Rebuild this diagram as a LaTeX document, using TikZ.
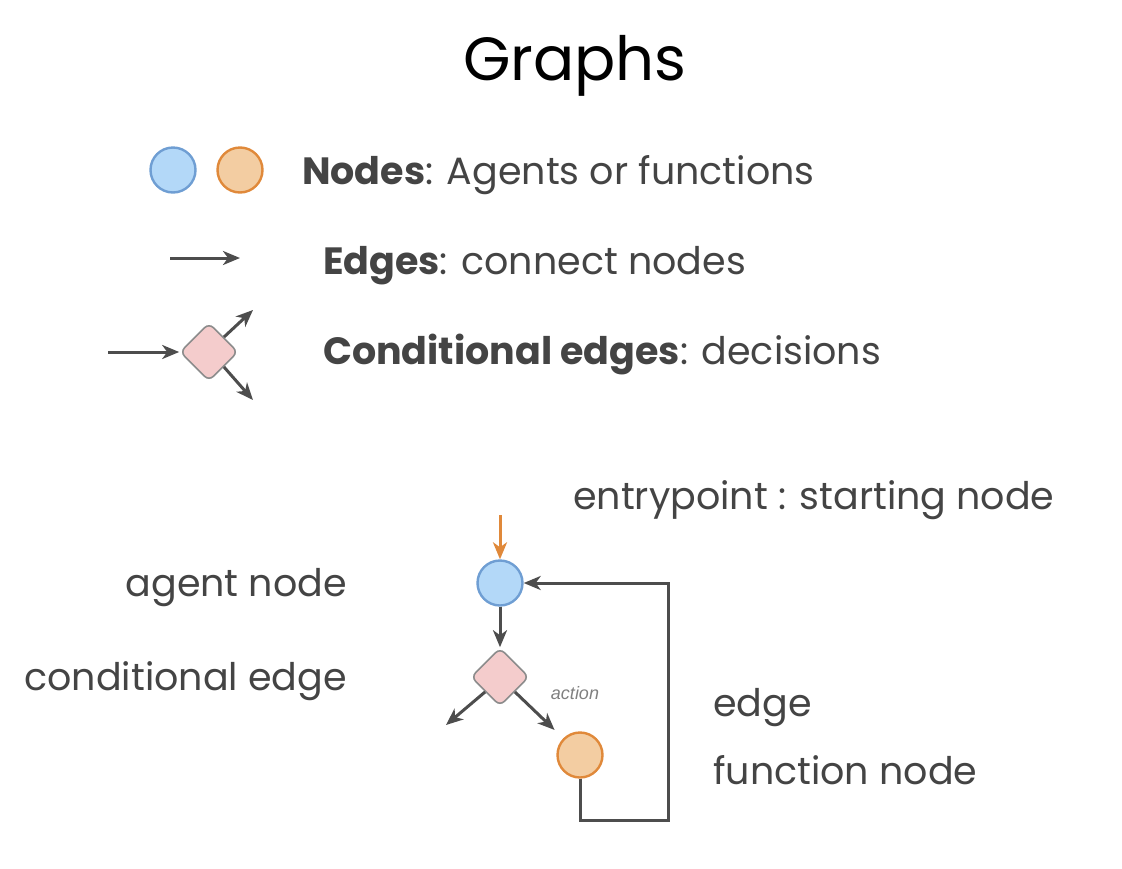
\documentclass[tikz,border=0pt]{standalone}
\usepackage{fontspec}
\setmainfont{Poppins}
\newfontfamily\actionfont{Liberation Sans}
\usetikzlibrary{arrows.meta,shapes.geometric,positioning}

\definecolor{texte}{HTML}{444444}
\definecolor{gris}{HTML}{4D4D4D}
\definecolor{bleu}{HTML}{B3D8F8}
\definecolor{bleubord}{HTML}{6F9ED3}
\definecolor{orangec}{HTML}{F3CDA2}
\definecolor{orangebord}{HTML}{E0893A}
\definecolor{rose}{HTML}{F4CCCC}
\definecolor{rosebord}{HTML}{8C8C8C}

\begin{document}
\begin{tikzpicture}[x=1pt,y=-1pt,
  fleche/.style={draw=gris, line width=3pt, -{Stealth[length=17pt,width=14pt,inset=5pt]}},
  agent/.style={circle, draw=bleubord, fill=bleu, line width=2.4pt, minimum size=45pt, inner sep=0pt},
  fonction/.style={agent, draw=orangebord, fill=orangec},
  decision/.style={diamond, draw=rosebord, fill=rose, line width=1.6pt, minimum size=58pt, inner sep=0pt, rounded corners=6pt},
  legende/.style={text=texte, font=\fontsize{38}{44}\selectfont, inner sep=0pt},
]
  \useasboundingbox (0,0) rectangle (1122,868);

  % Titre
  \node[text=black, font=\fontsize{61}{70}\selectfont, inner sep=0pt, anchor=base] (titre) at (575,80) {Graphs};

  % Legende : noeuds
  \node[agent] (lbleu) at (173,170) {};
  \node[fonction] (lorange) at (240,170) {};
  \node[legende, anchor=base west] (lnoeuds) at (302,184) {\textbf{Nodes}: Agents or functions};

  % Legende : aretes
  \coordinate (la1) at (170,258);
  \coordinate (la2) at (240,258);
  \draw[fleche] (la1) -- (la2);
  \node[legende, anchor=base west] (laretes) at (323,274) {\textbf{Edges}: connect nodes};

  % Legende : aretes conditionnelles
  \node[decision] (ldec) at (209,352) {};
  \coordinate (lc0) at (108,352);
  \coordinate (lc1) at (253,310);
  \coordinate (lc2) at (253,400);
  \draw[fleche] (lc0) -- (ldec.west);
  \draw[fleche] (ldec.north east) -- (lc1);
  \draw[fleche] (ldec.south east) -- (lc2);
  \node[legende, anchor=base west] (lcond) at (323,364) {\textbf{Conditional edges}: decisions};

  % Graphe d'exemple
  \node[agent] (agent) at (500,583) {};
  \node[decision] (dec) at (500,677) {};
  \node[fonction] (fonc) at (580,755) {};
  \coordinate (entree) at (500,515);
  \coordinate (gauche) at (446,725);
  \coordinate (coin) at (668,820);
  \draw[fleche, draw=orangebord] (entree) -- (agent.north);
  \draw[fleche] (agent.south) -- (dec.north);
  \draw[fleche] (dec.south west) -- (gauche);
  \draw[fleche, shorten >=12pt] (dec.south east) -- (fonc.north west);
  \draw[fleche] (fonc.south) |- (coin) |- (agent.east);
  \node[text=gray, font=\actionfont\itshape\fontsize{18}{20}\selectfont, inner sep=0pt] (action) at (575,693) {action};

  % Etiquettes
  \node[legende, anchor=base west] (lentree) at (573,509) {entrypoint : starting node};
  \node[legende, anchor=base east] (lagent) at (347,596) {agent node};
  \node[legende, anchor=base east] (ldecision) at (347,690) {conditional edge};
  \node[legende, anchor=base west] (larete) at (713,716) {edge};
  \node[legende, anchor=base west] (lfonction) at (713,784) {function node};
\end{tikzpicture}
\end{document}
